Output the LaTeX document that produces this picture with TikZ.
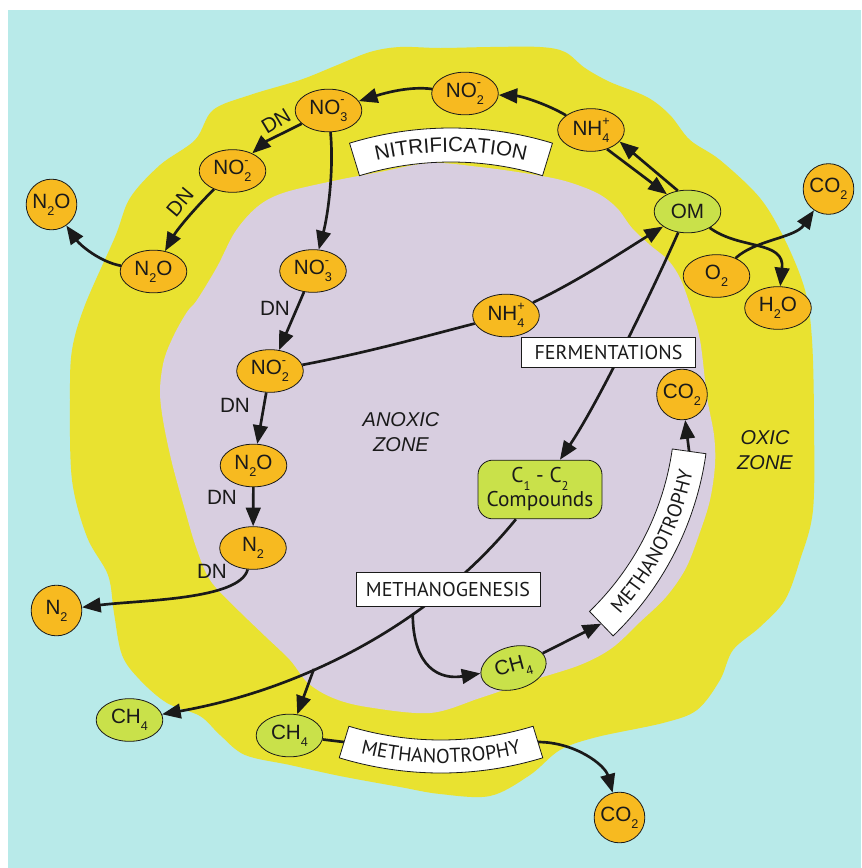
\documentclass[tikz,border=0pt]{standalone}
\usepackage{fontspec}
\setmainfont{Liberation Sans}
\newfontfamily\myriad{PT Sans}
\usetikzlibrary{arrows.meta,shapes.geometric,calc,decorations.text}
\definecolor{sea}{RGB}{184,234,233}
\definecolor{oxic}{RGB}{233,226,48}
\definecolor{anoxic}{RGB}{216,206,224}
\definecolor{amber}{RGB}{247,186,32}
\definecolor{leaf}{RGB}{201,225,74}
\definecolor{ink}{RGB}{26,26,26}
\newcommand{\sbs}[1]{\raisebox{-0.33em}{\fontsize{9.5}{10}\selectfont #1}}
\newcommand{\sps}[1]{\raisebox{0.5em}{\fontsize{9.5}{10}\selectfont #1}}
\newcommand{\ionlbl}[3]{#1\rlap{\sps{#3}}\sbs{#2}}
\newcommand{\lblfont}{\fontsize{15.5}{17}\selectfont}
\tikzset{
	mol/.style={ellipse,draw=ink,line width=0.6pt,fill=amber,text=ink,inner sep=0pt,minimum width=50pt,minimum height=32pt,font=\lblfont},
	gas/.style={circle,draw=ink,line width=0.6pt,fill=amber,text=ink,inner sep=0pt,minimum size=38pt,font=\lblfont},
	org/.style={mol,fill=leaf},
	proc/.style={draw=ink,line width=0.6pt,fill=white,text=ink,inner sep=0pt,font=\myriad\fontsize{15}{17}\selectfont},
	banner/.style={draw=ink,line width=0.6pt,fill=white},
	flux/.style={draw=ink,line width=2pt,-{Triangle[length=14pt,width=11pt]}},
	link/.style={draw=ink,line width=2pt},
	dn/.style={text=ink,font=\lblfont,inner sep=0pt},
	zone/.style={text=ink,font=\itshape\fontsize{15}{18.5}\selectfont,align=center,inner sep=0pt}
}

\begin{document}
\begin{tikzpicture}[x=0.75pt,y=-0.75pt]
	\useasboundingbox (0,0) rectangle (861,868);
	\fill[white] (0,0) rectangle (861,868);
	\fill[sea] (8,10) rectangle (861,868);

	% oxic layer
	\fill[oxic] plot[smooth cycle,tension=0.55] coordinates {(213,110) (250,95) (300,80) (335,66) (370,52) (400,47) (440,48) (490,47) (540,47) (565,52) (585,68) (610,82) (647,97) (670,115) (690,140) (720,160) (760,198) (785,240) (805,290) (812,340) (814,420) (813,510) (800,560) (785,600) (760,627) (733,650) (720,680) (697,710) (663,723) (597,737) (560,750) (530,775) (490,796) (440,794) (400,787) (340,776) (290,765) (245,755) (220,735) (200,716) (167,703) (140,680) (122,655) (114,613) (108,575) (87,537) (72,480) (70,400) (72,350) (85,305) (115,237) (130,198) (160,165) (195,140)};
	% anoxic core
	\fill[anoxic] plot[smooth cycle,tension=0.55] coordinates {(197,300) (217,267) (235,232) (257,207) (283,193) (333,181) (380,172) (430,163) (480,167) (530,174) (565,181) (597,193) (617,208) (632,228) (650,245) (668,260) (680,278) (690,305) (700,340) (707,397) (714,435) (715,465) (710,500) (700,532) (686,568) (666,597) (640,622) (612,648) (580,665) (530,681) (480,698) (430,713) (367,707) (333,698) (308,683) (290,660) (265,636) (235,607) (210,580) (196,547) (185,510) (172,463) (163,420) (160,390) (164,360) (174,335) (187,312)};

	\node[zone] (anox) at (401,432) {ANOXIC\\ZONE};
	\node[zone] (oxz) at (765,450) {OXIC\\ZONE};

	\node[dn,rotate=31] (dna) at (276,121) {DN};
	\node[dn,rotate=50] (dnb) at (180,202) {DN};
	\node[dn] (dnc) at (275,308) {DN};
	\node[dn] (dnd) at (235,405) {DN};
	\node[dn] (dne) at (222,497) {DN};
	\node[dn] (dnf) at (212,571) {DN};

	% nitrogen species
	\node[mol] (no2t) at (465,93.5) {\ionlbl{NO}{2}{-}};
	\node[mol] (nh4t) at (591,130) {\ionlbl{NH}{4}{+}};
	\node[mol] (no3t) at (328.5,110.5) {\ionlbl{NO}{3}{-}};
	\node[mol] (no2l) at (232.5,171) {\ionlbl{NO}{2}{-}};
	\node[gas] (n2oo) at (51.5,204.5) {N\sbs{2}O};
	\node[mol] (n2ol) at (153.5,271.5) {N\sbs{2}O};
	\node[mol] (no3i) at (313,271) {\ionlbl{NO}{3}{-}};
	\node[mol] (nh4i) at (506,315.5) {\ionlbl{NH}{4}{+}};
	\node[mol] (no2i) at (270,371) {\ionlbl{NO}{2}{-}};
	\node[mol] (n2oi) at (253.5,465.5) {N\sbs{2}O};
	\node[mol] (n2i) at (253,548) {N\sbs{2}};
	\node[gas] (n2o) at (56.5,610.5) {N\sbs{2}};

	% carbon and oxygen species
	\node[org] (om) at (687.5,211.5) {OM};
	\node[gas] (co2t) at (828.5,189) {CO\sbs{2}};
	\node[mol] (o2) at (716.5,276) {O\sbs{2}};
	\node[mol] (h2o) at (778,308) {H\sbs{2}O};
	\node[gas] (co2i) at (682,394.5) {CO\sbs{2}};
	\node[draw=ink,line width=0.6pt,fill=leaf,text=ink,rounded corners=11pt,minimum width=93pt,minimum height=44pt,inner sep=0pt,align=center,font=\myriad\fontsize{16}{18}\selectfont] (cc) at (540,489.5) {C\sbs{1} - C\sbs{2}\\Compounds};
	\node[org,rotate=15] (ch4i) at (513.5,668) {CH\sbs{4}};
	\node[org] (ch4o) at (129.5,720) {CH\sbs{4}};
	\node[org] (ch4r) at (289.5,735.5) {CH\sbs{4}};
	\node[gas] (co2b) at (619.5,817.5) {CO\sbs{2}};

	% banner centres and ends
	\coordinate (nitc) at (451,475);
	\coordinate (mtrc) at (395,410);
	\coordinate (mtbc) at (441,425);
	\coordinate (mtrlo) at ($(mtrc)+(46:297)$);
	\coordinate (mtrhi) at ($(mtrc)+(8:297)$);
	\coordinate (mtblo) at ($(mtbc)+(107:331.5)$);
	\coordinate (mtbhi) at ($(mtbc)+(73:331.5)$);

	% nitrification / denitrification
	\draw[flux] (nh4t) .. controls (545,103) and (520,96) .. (no2t);
	\draw[flux] (no2t) .. controls (410,86) and (385,93) .. (no3t);
	\draw[flux] (no3t) .. controls (285,132) and (265,142) .. (no2l);
	\draw[flux] (no2l) .. controls (198,205) and (178,228) .. (n2ol);
	\draw[flux] (n2ol) .. controls (100,262) and (80,245) .. (n2oo);
	\draw[flux] (no3t) .. controls (334,170) and (328,215) .. (no3i);
	\draw[flux] (no3i) -- (no2i);
	\draw[flux] (no2i) -- (n2oi);
	\draw[flux] (n2oi) -- (n2i);
	\draw[flux] (n2i) .. controls (240,600) and (140,600) .. (n2o);
	\draw[link] (no2i) .. controls (370,352) and (430,335) .. (nh4i);
	\draw[flux] (nh4i) .. controls (580,280) and (625,250) .. (om);
	\draw[flux] (nh4t.-50) -- (om.140);
	\draw[flux] (om.115) -- (nh4t.-22);

	% respiration and fermentation
	\draw[flux] (om) .. controls (740,250) and (785,240) .. (h2o);
	\draw[flux] (o2) .. controls (755,240) and (795,238) .. (co2t);
	\draw[flux] (om) .. controls (655,285) and (600,400) .. (cc);

	% methane
	\draw[flux] (cc) .. controls (430,625) and (300,690) .. (ch4o) coordinate[pos=0.345] (mgfork) coordinate[pos=0.62] (mgsplit);
	\draw[flux] (mgsplit) -- (ch4r);
	\draw[flux] (mgfork) .. controls (413,668) and (440,680) .. (ch4i);
	\draw[flux] (ch4i) -- (mtrlo);
	\draw[flux] (mtrhi) -- (co2i);
	\draw[link] (ch4r) -- (mtblo);
	\draw[flux] (mtbhi) .. controls (575,742) and (605,765) .. (co2b);

	\node[proc,minimum width=130pt,minimum height=22pt] (ferm) at (608.5,352.5) {FERMENTATIONS};
	\node[proc,minimum width=138pt,minimum height=25.5pt] (mgen) at (448,589) {METHANOGENESIS};

	% curved banners
	\path[banner] ($(nitc)+(253:347)$) arc[start angle=253,end angle=287,radius=347] -- ($(nitc)+(287:313)$) arc[start angle=287,end angle=253,radius=313] -- cycle;
	\path[decorate,decoration={text along path,text align=center,text={|\lblfont\color{ink}|NITRIFICATION}}] ($(nitc)+(253:323)$) arc[start angle=253,end angle=287,radius=323];

	\path[banner] ($(mtrc)+(46:314)$) arc[start angle=46,end angle=8,radius=314] -- ($(mtrc)+(8:280)$) arc[start angle=8,end angle=46,radius=280] -- cycle;
	\path[decorate,decoration={text along path,text align=center,text={|\myriad\fontsize{15}{17}\selectfont\color{ink}|METHANOTROPHY}}] ($(mtrc)+(46:304)$) arc[start angle=46,end angle=8,radius=304];

	\path[banner] ($(mtbc)+(107:348)$) arc[start angle=107,end angle=73,radius=348] -- ($(mtbc)+(73:315)$) arc[start angle=73,end angle=107,radius=315] -- cycle;
	\path[decorate,decoration={text along path,text align=center,text={|\myriad\fontsize{15}{17}\selectfont\color{ink}|METHANOTROPHY}}] ($(mtbc)+(107:338)$) arc[start angle=107,end angle=73,radius=338];
\end{tikzpicture}
\end{document}
